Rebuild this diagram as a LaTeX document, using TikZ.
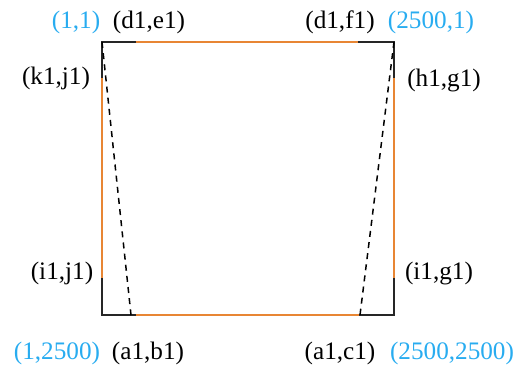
\documentclass[tikz,border=0pt]{standalone}
\usepackage{fontspec}
\setmainfont{Liberation Serif}
\usetikzlibrary{positioning}
\definecolor{lblblue}{RGB}{40,172,240}
\definecolor{edgeorange}{RGB}{232,134,52}

\tikzset{
  lbl/.style={inner sep=0pt,font=\fontsize{12.6}{14}\selectfont},
  cornerlbl/.style={lbl,text=lblblue},
  seg/.style={line width=0.75pt,black!85},
  cut/.style={line width=0.75pt,dash pattern=on 3pt off 2.6pt}
}

\begin{document}
\begin{tikzpicture}[x=0.5pt,y=-0.5pt]
\useasboundingbox (0,0) rectangle (519,366);
% corners of the square
\coordinate (tl) at (102,42);
\coordinate (tr) at (394,42);
\coordinate (bl) at (102,315);
\coordinate (br) at (394,315);
% ends of the short black pieces
\coordinate (e1) at (136,42);
\coordinate (f1) at (358,42);
\coordinate (j1) at (102,78);
\coordinate (g1) at (394,78);
\coordinate (jj) at (102,278);
\coordinate (gg) at (394,278);
\coordinate (b1) at (136,315);
\coordinate (c1) at (359,315);
\coordinate (bt) at (131,315);
\coordinate (ct) at (360,315);

\draw[edgeorange,line width=0.55pt] (tl) rectangle (br);
\draw[seg] (e1)--(tl)--(j1);
\draw[seg] (f1)--(tr)--(g1);
\draw[seg] (jj)--(bl)--(b1);
\draw[seg] (gg)--(br)--(c1);
\draw[cut] (tl)--(bt);
\draw[cut] (tr)--(ct);

\node[cornerlbl] (p11) at (76,22) {(1,1)};
\node[lbl] (de) at (149,22) {(d1,e1)};
\node[lbl] (df) at (340,22) {(d1,f1)};
\node[cornerlbl] (p21) at (431,22) {(2500,1)};
\node[lbl] (kj) at (56,78) {(k1,j1)};
\node[lbl] (hg) at (444,80) {(h1,g1)};
\node[lbl] (ij) at (62,273) {(i1,j1)};
\node[lbl] (ig) at (439,273) {(i1,g1)};
\node[cornerlbl] (p12) at (57,353) {(1,2500)};
\node[lbl] (ab) at (148,353) {(a1,b1)};
\node[lbl] (ac) at (340,353) {(a1,c1)};
\node[cornerlbl] (p22) at (452,353) {(2500,2500)};
\end{tikzpicture}
\end{document}
